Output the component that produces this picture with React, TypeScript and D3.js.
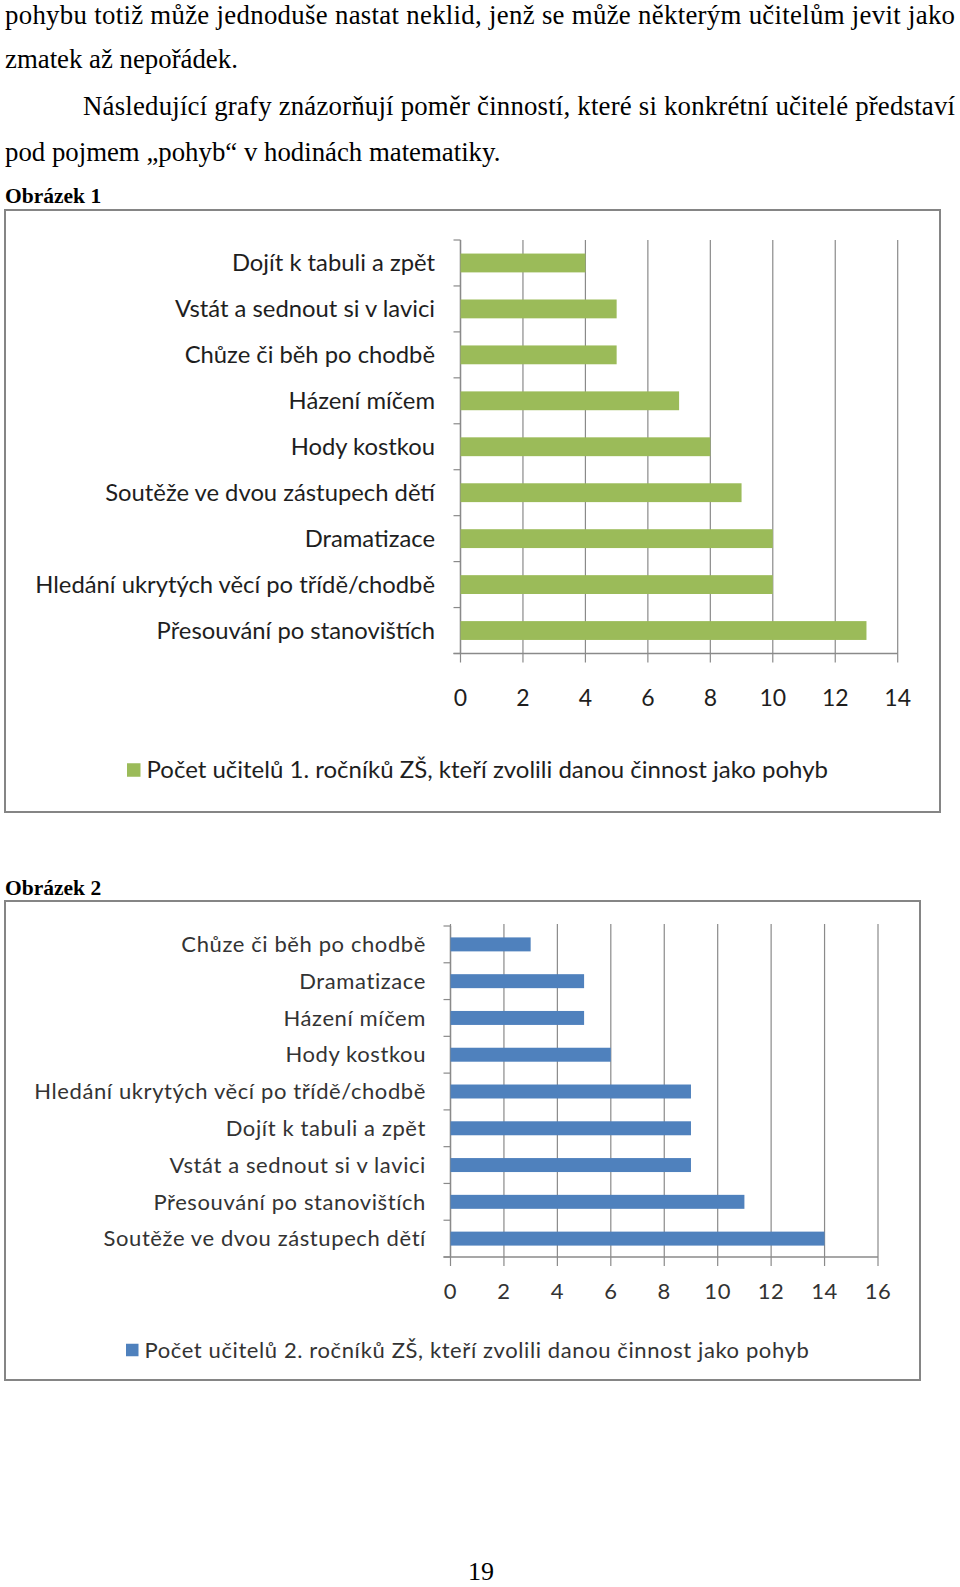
import React from "react";
import * as d3 from "d3";

const cats1 = [
  "Dojít k tabuli a zpět",
  "Vstát a sednout si v lavici",
  "Chůze či běh po chodbě",
  "Házení míčem",
  "Hody kostkou",
  "Soutěže ve dvou zástupech dětí",
  "Dramatizace",
  "Hledání ukrytých věcí po třídě/chodbě",
  "Přesouvání po stanovištích",
];
const vals1 = [4, 5, 5, 7, 8, 9, 10, 10, 13];
const ticks1 = [0, 2, 4, 6, 8, 10, 12, 14];
const legend1 = "Počet učitelů 1. ročníků ZŠ, kteří zvolili danou činnost jako pohyb";

const cats2 = [
  "Chůze či běh po chodbě",
  "Dramatizace",
  "Házení míčem",
  "Hody kostkou",
  "Hledání ukrytých věcí po třídě/chodbě",
  "Dojít k tabuli a zpět",
  "Vstát a sednout si v lavici",
  "Přesouvání po stanovištích",
  "Soutěže ve dvou zástupech dětí",
];
const vals2 = [3, 5, 5, 6, 9, 9, 9, 11, 14];
const ticks2 = [0, 2, 4, 6, 8, 10, 12, 14, 16];
const legend2 = "Počet učitelů 2. ročníků ZŠ, kteří zvolili danou činnost jako pohyb";

const bodyLines = [
  "pohybu totiž může jednoduše nastat neklid, jenž se může některým učitelům jevit jako",
  "zmatek až nepořádek.",
  "Následující grafy znázorňují poměr činností, které si konkrétní učitelé představí",
  "pod pojmem „pohyb“ v hodinách matematiky.",
];

type ChartProps = {
  cats: string[];
  vals: number[];
  ticks: number[];
  legend: string;
  color: string;
  frame: [number, number, number, number];
  xRange: [number, number];
  yRange: [number, number];
  labelRight: number;
  tickLabelY: number;
  legendX: number;
  legendY: number;
  legendSq: number;
  fontSize: number;
  tickFont: number;
  legendFont: number;
  gridTop: number;
  barPad: number;
  textFill: string;
  spacing: number;
};

function BarChart(p: ChartProps) {
  const x = d3.scaleLinear().domain([p.ticks[0], p.ticks[p.ticks.length - 1]]).range(p.xRange);
  const y = d3
    .scaleBand<string>()
    .domain(p.cats)
    .range(p.yRange)
    .paddingInner(p.barPad)
    .paddingOuter(p.barPad / 2);
  const step = y.step();
  const x0 = x(0);
  const [fx, fy, fw, fh] = p.frame;
  const grid = "#8a8a8a";
  const font = "Lato, 'Open Sans', sans-serif";
  return (
    <g>
      <rect x={fx} y={fy} width={fw} height={fh} fill="#fff" stroke="#858585" strokeWidth={2} />
      {p.ticks.map((t) => (
        <line key={"g" + t} x1={x(t)} x2={x(t)} y1={p.gridTop} y2={p.yRange[1] + 9} stroke={grid} strokeWidth={1.2} />
      ))}
      {d3.range(p.cats.length + 1).map((i) => (
        <line key={"ct" + i} x1={x0 - 7} x2={x0} y1={p.yRange[0] + i * step} y2={p.yRange[0] + i * step} stroke={grid} strokeWidth={1.2} />
      ))}
      <line x1={x0} x2={x0} y1={p.yRange[0]} y2={p.yRange[1]} stroke={grid} strokeWidth={1.4} />
      <line x1={x0 - 7} x2={x(p.ticks[p.ticks.length - 1])} y1={p.yRange[1]} y2={p.yRange[1]} stroke={grid} strokeWidth={1.4} />
      {p.cats.map((c, i) => (
        <rect key={"b" + i} x={x0} y={y(c)!} width={x(p.vals[i]) - x0} height={y.bandwidth()} fill={p.color} />
      ))}
      {p.cats.map((c) => (
        <text
          key={"l" + c}
          x={p.labelRight}
          y={y(c)! + y.bandwidth() / 2}
          dy="0.35em"
          textAnchor="end"
          fontSize={p.fontSize}
          fontFamily={font}
          letterSpacing={p.spacing}
          fill={p.textFill}
        >
          {c}
        </text>
      ))}
      {p.ticks.map((t) => (
        <text
          key={"tl" + t}
          x={x(t)}
          y={p.tickLabelY}
          dy="0.35em"
          textAnchor="middle"
          fontSize={p.tickFont}
          fontFamily={font}
          letterSpacing={p.spacing}
          fill={p.textFill}
        >
          {t}
        </text>
      ))}
      <rect x={p.legendX} y={p.legendY - p.legendSq / 2} width={p.legendSq} height={p.legendSq} fill={p.color} />
      <text
        x={p.legendX + p.legendSq + 6}
        y={p.legendY}
        dy="0.35em"
        fontSize={p.legendFont}
        fontFamily={font}
        letterSpacing={p.spacing}
        fill={p.textFill}
      >
        {p.legend}
      </text>
    </g>
  );
}

export default function App() {
  const serif = "'Liberation Serif', 'Times New Roman', serif";
  return (
    <svg
      width={960}
      height={1587}
      viewBox="0 0 960 1587"
      style={{ position: "absolute", left: 0, top: 0, background: "#fff" }}
    >
      <rect x={0} y={0} width={960} height={1587} fill="#fff" />
      <text x={5} y={24} fontFamily={serif} fontSize={26.8} fill="#000" textLength={950} lengthAdjust="spacing">
        {bodyLines[0]}
      </text>
      <text x={5} y={68} fontFamily={serif} fontSize={26.8} fill="#000">
        {bodyLines[1]}
      </text>
      <text x={83} y={115} fontFamily={serif} fontSize={26.8} fill="#000" textLength={872} lengthAdjust="spacing">
        {bodyLines[2]}
      </text>
      <text x={5} y={161} fontFamily={serif} fontSize={26.8} fill="#000">
        {bodyLines[3]}
      </text>
      <text x={5} y={203} fontFamily={serif} fontSize={21.5} fontWeight="bold" fill="#000">
        Obrázek 1
      </text>
      <text x={5} y={895} fontFamily={serif} fontSize={21.5} fontWeight="bold" fill="#000">
        Obrázek 2
      </text>
      <BarChart
        cats={cats1}
        vals={vals1}
        ticks={ticks1}
        legend={legend1}
        color="#9bbb59"
        frame={[5, 210, 935, 602]}
        xRange={[460.5, 897.7]}
        yRange={[240, 653.5]}
        labelRight={435}
        tickLabelY={698}
        legendX={127}
        legendY={770}
        legendSq={13.5}
        fontSize={23.8}
        tickFont={23}
        legendFont={24}
        gridTop={240}
        barPad={0.59}
        textFill="#1e1e1e"
        spacing={0}
      />
      <BarChart
        cats={cats2}
        vals={vals2}
        ticks={ticks2}
        legend={legend2}
        color="#4f81bd"
        frame={[5, 901, 915, 479]}
        xRange={[450.5, 878]}
        yRange={[926, 1257]}
        labelRight={426}
        tickLabelY={1291}
        legendX={126}
        legendY={1350}
        legendSq={12.5}
        fontSize={22}
        tickFont={22}
        legendFont={22}
        gridTop={924}
        barPad={0.62}
        textFill="#333"
        spacing={0.6}
      />
      <text x={481} y={1580} textAnchor="middle" fontFamily={serif} fontSize={26} fill="#000">
        19
      </text>
    </svg>
  );
}
